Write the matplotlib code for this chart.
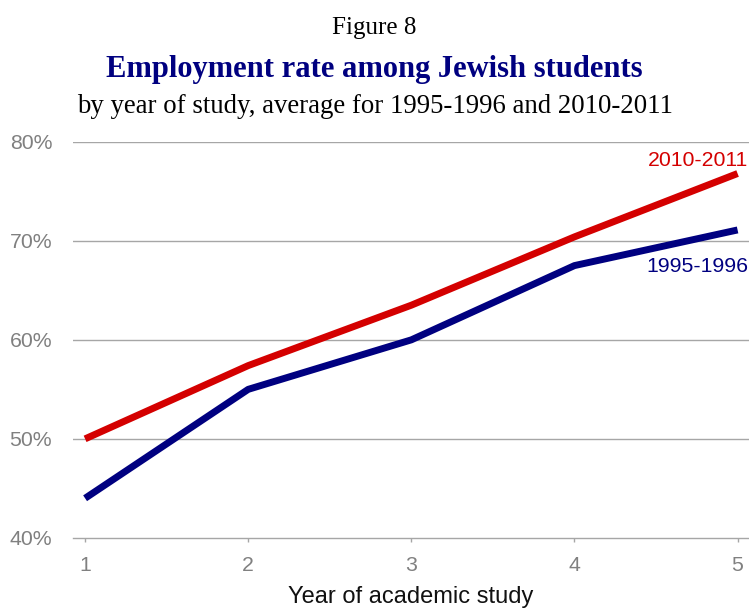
import matplotlib
matplotlib.use("Agg")
import matplotlib.pyplot as plt
from matplotlib.ticker import FuncFormatter

years = [1, 2, 3, 4, 5]
rate_2010 = [50.0, 57.4, 63.5, 70.4, 76.8]
rate_1995 = [44.0, 55.0, 60.0, 67.5, 71.1]
yticks = [40, 50, 60, 70, 80]

fig = plt.figure(figsize=(7.49, 6.14), dpi=100)
ax = fig.add_axes([0.0975, 0.124, 0.9025, 0.645])

grey = "#808080"
for y in yticks[1:]:
    ax.axhline(y, color="#a6a6a6", lw=1.0, zorder=1)

ax.plot(years, rate_2010, color="#d40000", lw=5.0, solid_capstyle="butt", zorder=3)
ax.plot(years, rate_1995, color="#000080", lw=5.0, solid_capstyle="butt", zorder=3)

ax.set_xlim(0.926, 5.07)
ax.set_ylim(40, 80)
ax.set_xticks(years)
ax.set_yticks(yticks)
ax.yaxis.set_major_formatter(FuncFormatter(lambda v, p: f"{v:.0f}%"))
for s in ["top", "right", "left"]:
    ax.spines[s].set_visible(False)
ax.spines["bottom"].set_color("#a6a6a6")
ax.spines["bottom"].set_linewidth(1.0)
ax.tick_params(axis="x", color="#a6a6a6", length=3, width=1, labelsize=15.3, pad=10, labelcolor=grey)
ax.tick_params(axis="y", length=0, labelsize=15.3, labelcolor=grey, pad=15)
for lab in ax.get_xticklabels() + ax.get_yticklabels():
    lab.set_fontfamily("Liberation Sans")

ax.set_xlabel("Year of academic study", fontsize=17, family="Liberation Sans", color="#111111", labelpad=8)

ax.text(5.065, 78.1, "2010-2011", color="#d40000", fontsize=15.3, family="Liberation Sans", ha="right", va="center")
ax.text(5.065, 67.4, "1995-1996", color="#000080", fontsize=15.3, family="Liberation Sans", ha="right", va="center")

fig.text(0.5, 0.954, "Figure 8", ha="center", va="center", fontsize=18, family="Liberation Serif")
fig.text(0.5, 0.886, "Employment rate among Jewish students", ha="center", va="center", fontsize=22,
         family="Liberation Serif", weight="bold", color="#000080")
fig.text(0.5, 0.827, "by year of study, average for 1995-1996 and 2010-2011", ha="center", va="center",
         fontsize=19.3, family="Liberation Serif")

fig.savefig("out.png", dpi=100)
